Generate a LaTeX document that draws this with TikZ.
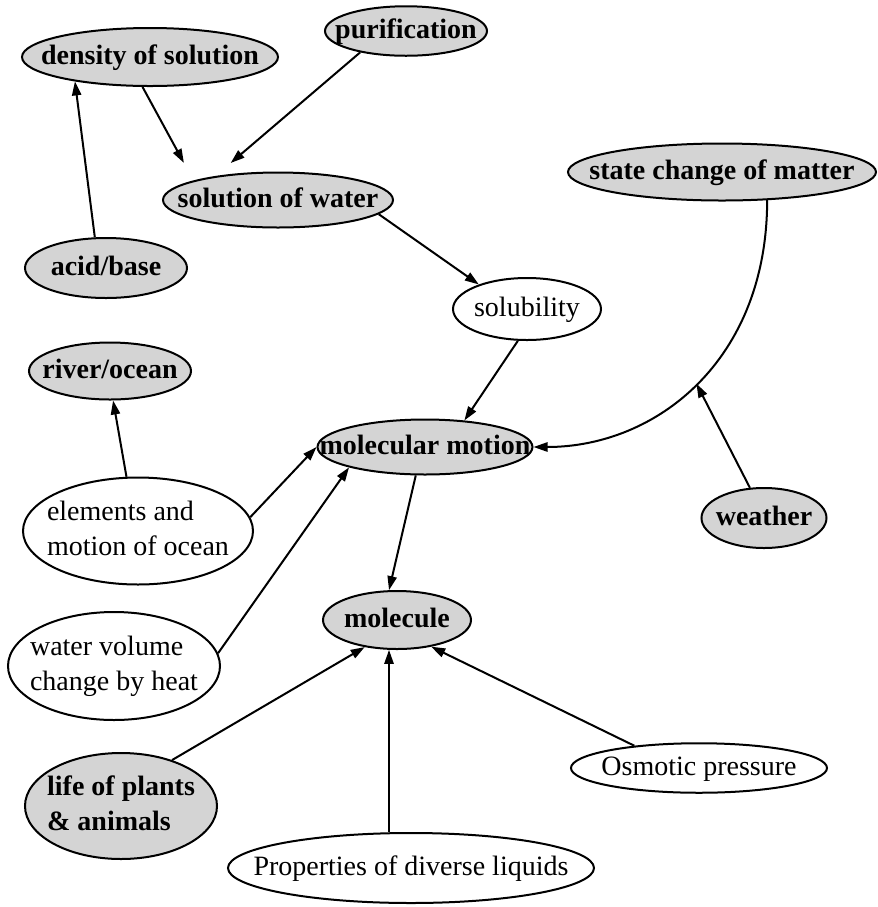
\documentclass[tikz,border=0pt]{standalone}
\usepackage{fontspec}
\setmainfont{Liberation Serif}
\usetikzlibrary{shapes.geometric,arrows.meta}
\newcommand{\ntxt}[1]{\makebox[0pt][c]{\begin{tabular}{@{}l@{}}#1\end{tabular}}}
\begin{document}
\begin{tikzpicture}[x=0.5pt,y=-0.5pt,
  base/.style={ellipse, draw, line width=1pt, inner sep=0pt,
    font=\fontsize{14}{17.5}\selectfont},
  gnode/.style={base, fill=black!17, font=\fontsize{14}{17.5}\selectfont\bfseries},
  wnode/.style={base, fill=white},
  sz/.style 2 args={minimum width=#1*0.5pt, minimum height=#2*0.5pt},
  arr/.style={-{Triangle[length=7pt,width=4.6pt]}, line width=1pt}]
\useasboundingbox (0,0) rectangle (878,907);

\node[gnode, sz={256}{58}] (dens) at (150,57) {\ntxt{density of solution}};
\node[gnode, sz={162}{48}] (puri) at (406,31) {\ntxt{purification}};
\node[gnode, sz={230}{55}] (solw) at (278,200) {\ntxt{solution of water}};
\node[gnode, sz={162}{60}] (acid) at (106,268) {\ntxt{acid/base}};
\node[gnode, sz={308}{57}] (state) at (722,172) {\ntxt{state change of matter}};
\node[wnode, sz={148}{62}] (solu) at (527,309) {\ntxt{solubility}};
\node[gnode, sz={162}{57}] (river) at (110,371) {\ntxt{river/ocean}};
\node[gnode, sz={215}{55}] (molm) at (425,447) {\ntxt{molecular motion}};
\node[gnode, sz={125}{60}] (weather) at (764,518) {\ntxt{weather}};
\node[wnode, sz={230}{107}] (elem) at (138,531) {\ntxt{elements and\\motion of ocean}};
\node[wnode, sz={212}{108}] (watv) at (114,666) {\ntxt{water volume\\change by heat}};
\node[gnode, sz={148}{58}] (mole) at (397,620) {\ntxt{molecule}};
\node[gnode, sz={192}{106}] (life) at (121,806) {\ntxt{life of plants\\\& animals}};
\node[wnode, sz={366}{70}] (prop) at (411,868) {\ntxt{Properties of diverse liquids}};
\node[wnode, sz={256}{47}] (osmo) at (699,768) {\ntxt{Osmotic pressure}};

\draw[arr] (acid.110) -- (dens.-162);
\draw[arr, shorten >=10pt] (dens.-104) -- (solw.167);
\draw[arr, shorten >=10pt] (puri.-155) -- (solw.159);
\draw[arr] (solw.-8) -- (solu.153);
\draw[arr] (solu.-106) -- (molm.34);
\draw[arr] (state.-32.5) .. controls +(0,160) and +(123,0) .. (molm.east)
  coordinate[pos=0.5] (wtip);
\draw[arr] (weather.115) -- (wtip);
\draw[arr] (elem.102) -- (river.-84);
\draw[arr] (elem.7) -- (molm.west);
\draw[arr] (watv.7) -- (molm.-165);
\draw[arr] (molm.-108) -- (mole.105);
\draw[arr] (life.42) -- (mole.-140);
\draw[arr] (prop.north -| mole.-105) -- (mole.-105);
\draw[arr] (osmo.161) -- (mole.-38);
\end{tikzpicture}
\end{document}
